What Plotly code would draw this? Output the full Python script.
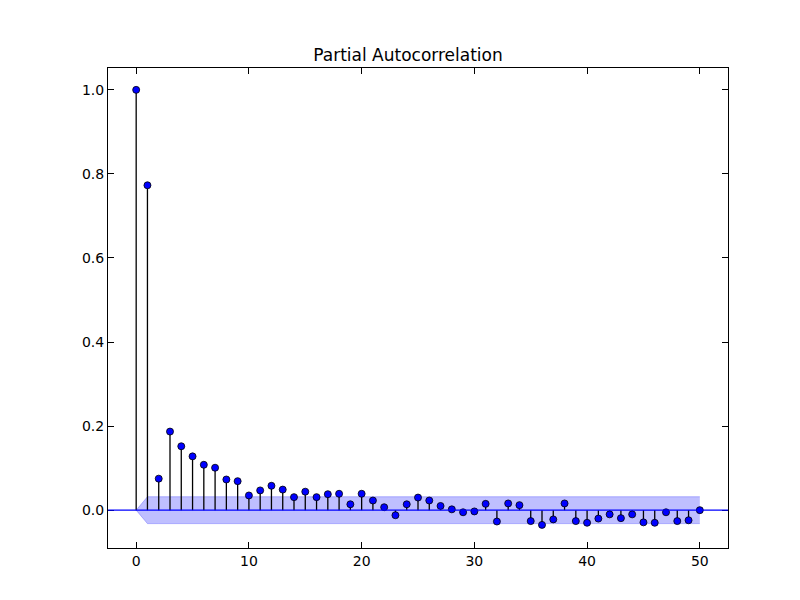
import plotly.graph_objects as go

lags = list(range(51))
pacf = [1.0, 0.773, 0.075, 0.187, 0.152, 0.128, 0.108, 0.101, 0.073, 0.069,
        0.035, 0.047, 0.058, 0.049, 0.031, 0.044, 0.031, 0.038, 0.039, 0.014,
        0.039, 0.023, 0.007, -0.012, 0.014, 0.030, 0.023, 0.010, 0.002, -0.005,
        -0.003, 0.015, -0.027, 0.016, 0.012, -0.026, -0.035, -0.022, 0.016, -0.026,
        -0.030, -0.020, -0.010, -0.019, -0.010, -0.029, -0.030, -0.005, -0.026, -0.024,
        0.0]
conf = [0.0] + [0.032] * 50

fig = go.Figure()

# confidence band
fig.add_trace(go.Scatter(x=lags, y=conf, mode="lines", line=dict(color="rgba(0,0,255,0.25)", width=1),
                         hoverinfo="skip"))
fig.add_trace(go.Scatter(x=lags, y=[-c for c in conf], mode="lines", fill="tonexty",
                         fillcolor="rgba(0,0,255,0.25)", line=dict(color="rgba(0,0,255,0.25)", width=1),
                         hoverinfo="skip"))

# zero line
fig.add_hline(y=0, line=dict(color="blue", width=1.2))

# stems
sx, sy = [], []
for l, v in zip(lags, pacf):
    sx += [l, l, None]
    sy += [0, v, None]
fig.add_trace(go.Scatter(x=sx, y=sy, mode="lines", line=dict(color="black", width=1.3), hoverinfo="skip"))

fig.add_trace(go.Scatter(x=lags, y=pacf, mode="markers",
                         marker=dict(color="blue", size=7, line=dict(color="black", width=0.8))))

axis = dict(showgrid=False, zeroline=False, showline=True, linecolor="black", linewidth=1,
            mirror="ticks", ticks="inside", ticklen=6, tickcolor="black",
            tickfont=dict(family="DejaVu Sans", size=14, color="black"))
fig.update_xaxes(range=[-2.5, 52.5], tickvals=[0, 10, 20, 30, 40, 50], **axis)
fig.update_yaxes(range=[-0.09, 1.052], tickvals=[0.0, 0.2, 0.4, 0.6, 0.8, 1.0],
                 tickformat=".1f", **axis)

fig.update_layout(
    width=800, height=600, showlegend=False,
    plot_bgcolor="white", paper_bgcolor="white",
    margin=dict(l=100, r=80, t=60, b=60),
    title=dict(text="Partial Autocorrelation", x=0.5, xanchor="center", y=0.922, yanchor="middle",
               font=dict(family="DejaVu Sans", size=17, color="black")),
)

fig.write_html("out.html")
